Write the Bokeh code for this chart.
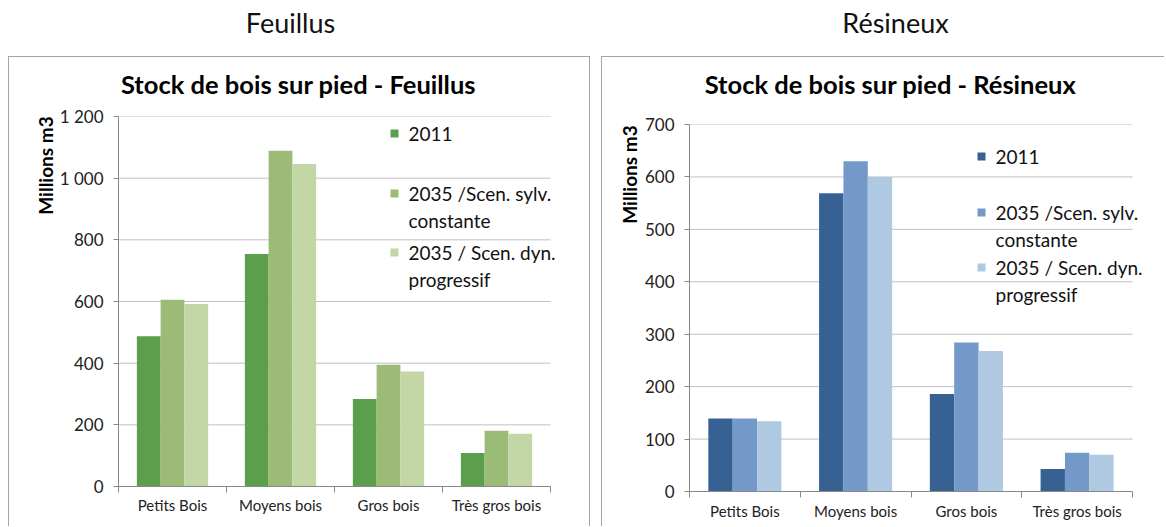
import math
from bokeh.plotting import figure
from bokeh.layouts import column, row
from bokeh.models import (ColumnDataSource, Range1d, FixedTicker, CustomJSTickFormatter,
                          Label, Spacer, BoxAnnotation)
from bokeh.transform import dodge
from bokeh.embed import file_html
from bokeh.resources import INLINE

# ---------------- data ----------------
categories = ["Petits Bois", "Moyens bois", "Gros bois", "Très gros bois"]
series_lines = [["2011"], ["2035 /Scen. sylv.", "constante"], ["2035 / Scen. dyn.", "progressif"]]

feuillus_2011 = [487, 754, 284, 109]
feuillus_sylv = [606, 1089, 395, 181]
feuillus_dyn = [592, 1046, 373, 171]

resineux_2011 = [139, 569, 186, 43]
resineux_sylv = [139, 630, 284, 74]
resineux_dyn = [134, 600, 268, 70]

feuillus_ticks = [0, 200, 400, 600, 800, 1000, 1200]
resineux_ticks = [0, 100, 200, 300, 400, 500, 600, 700]

headings = ["Feuillus", "Résineux"]
titles = ["Stock de bois sur pied - Feuillus", "Stock de bois sur pied - Résineux"]
y_label = "Millions m3"

green = ["#5B9F4C", "#9BBB77", "#C3D6A5"]
blue = ["#376093", "#7399C9", "#B0C9E3"]

FONT = "Lato"


def bare(width, height, xr, yr, **borders):
    f = figure(width=width, height=height, output_backend="svg", toolbar_location=None,
               x_range=Range1d(*xr), y_range=Range1d(*yr),
               x_axis_location=None, y_axis_location=None, **borders)
    f.outline_line_color = None
    f.grid.grid_line_color = None
    return f


def make_panel(title, values, colors, ticks, width, height, title_h, title_x,
               left_b, axis_w, bottom_b, frame_h, legend_x, legend_rows,
               x_standoff, ylab_w, ylab_pos, css):
    n = len(categories)
    frame_w = width - left_b
    top_b = 12
    ch = height - title_h

    # ---- title strip (frame aligned with the chart frame) ----
    ts = bare(width, title_h, (0, frame_w), (0, title_h),
              min_border_left=left_b, min_border_right=0, min_border_top=0, min_border_bottom=0)
    ts.add_layout(Label(x=title_x - left_b, y=title_h - 26, text=title, text_align="center",
                        text_baseline="middle", text_font=FONT, text_font_style="bold",
                        text_font_size="25.5px", text_color="#000000"))

    # ---- y axis title column ----
    yl = bare(ylab_w, ch, (0, ylab_w), (0, frame_h),
              min_border_left=0, min_border_right=0, min_border_top=top_b,
              min_border_bottom=ch - top_b - frame_h)
    yl.add_layout(Label(x=ylab_pos[0], y=ylab_pos[1], text=y_label, angle=math.pi / 2,
                        text_align="center", text_baseline="middle",
                        text_font=FONT, text_font_style="bold", text_font_size="19px",
                        text_color="#000000"))

    # ---- chart ----
    x_end = n * frame_w / axis_w  # frame reaches the box edge so the legend can overhang
    p = figure(width=width - ylab_w, height=ch, output_backend="svg", toolbar_location=None,
               x_range=Range1d(0, x_end), y_range=Range1d(0, ticks[-1]),
               min_border_left=left_b - ylab_w, min_border_right=0,
               min_border_top=top_b, min_border_bottom=ch - top_b - frame_h)
    p.outline_line_color = None
    p.background_fill_color = "white"
    p.border_fill_color = "white"

    # horizontal gridlines limited to the category extent
    p.segment(x0=[0] * len(ticks), x1=[n] * len(ticks), y0=ticks, y1=ticks,
              line_color="#c0c0c0", line_width=1)

    src = ColumnDataSource(dict(x=[i + 0.5 for i in range(n)],
                                v0=values[0], v1=values[1], v2=values[2]))
    w = 0.22
    for k, off in enumerate([-w, 0, w]):
        p.vbar(x=dodge("x", off), top="v%d" % k, width=w, source=src,
               fill_color=colors[k], line_color=None)

    # x axis
    xa = p.xaxis[0]
    xa.bounds = (0, n)
    xa.ticker = FixedTicker(ticks=[i + 0.5 for i in range(n)],
                            minor_ticks=list(range(n + 1)))
    xa.formatter = CustomJSTickFormatter(args=dict(cats=categories),
                                         code="return cats[Math.round(tick - 0.5)] || '';")
    xa.major_tick_line_color = None
    xa.major_tick_out = 0
    xa.minor_tick_line_color = "#888888"
    xa.minor_tick_out = 6
    xa.minor_tick_in = 0
    xa.axis_line_color = "#888888"
    xa.major_label_text_font = FONT
    xa.major_label_text_font_size = "15px"
    xa.major_label_text_color = "#222222"
    xa.major_label_standoff = x_standoff

    # y axis
    ya = p.yaxis[0]
    ya.ticker = FixedTicker(ticks=ticks, minor_ticks=[])
    ya.formatter = CustomJSTickFormatter(code="""
        if (tick >= 1000) { return Math.floor(tick/1000) + ' ' + String(tick % 1000).padStart(3, '0'); }
        return String(tick);""")
    ya.axis_line_color = "#888888"
    ya.major_tick_line_color = "#888888"
    ya.major_tick_out = 5
    ya.major_tick_in = 0
    ya.major_label_text_font = FONT
    ya.major_label_text_font_size = "17px"
    ya.major_label_text_color = "#222222"
    ya.major_label_standoff = 10

    p.grid.grid_line_color = None

    # legend drawn as swatches + text lines (screen units relative to the frame)
    for k, lines in enumerate(series_lines):
        y0 = legend_rows[k]
        p.add_layout(BoxAnnotation(left=legend_x, right=legend_x + 8, bottom=y0 - 4, top=y0 + 4,
                                   left_units="screen", right_units="screen",
                                   bottom_units="screen", top_units="screen",
                                   fill_color=colors[k], fill_alpha=1.0, line_color=None))
        for j, line in enumerate(lines):
            p.add_layout(Label(x=legend_x + 18, y=y0 - j * 27, x_units="screen", y_units="screen",
                               text=line, text_align="left", text_baseline="middle",
                               text_font=FONT, text_font_size="19px", text_color="#111111"))

    col = column(ts, row(yl, p))
    col.styles = css
    return col


# headings strip
head = bare(1164, 56, (0, 1164), (0, 56), min_border=0)
for txt, xc in zip(headings, [290, 895]):
    head.add_layout(Label(x=xc, y=34, text=txt, text_align="center", text_baseline="middle",
                          text_font=FONT, text_font_size="27px", text_color="#111111"))

box_css_left = {"border": "1px solid #a5a5a5", "border-bottom": "none"}
box_css_right = {"border": "1px solid #a5a5a5", "border-bottom": "none", "border-right": "none"}

left = make_panel(titles[0], [feuillus_2011, feuillus_sylv, feuillus_dyn], green,
                  feuillus_ticks, 580, 469, 47, 289, 109, 432, 40, 370,
                  272, [353, 293, 234], 3, 47, (36, 321), box_css_left)
right = make_panel(titles[1], [resineux_2011, resineux_sylv, resineux_dyn], blue,
                   resineux_ticks, 562, 469, 55, 288, 87, 443, 35, 367,
                   288, [335, 279, 224], 4, 39, (27, 317), box_css_right)

layout = column(head, row(Spacer(width=8), left, Spacer(width=11), right))

open("out.html", "w").write(file_html(layout, INLINE))
